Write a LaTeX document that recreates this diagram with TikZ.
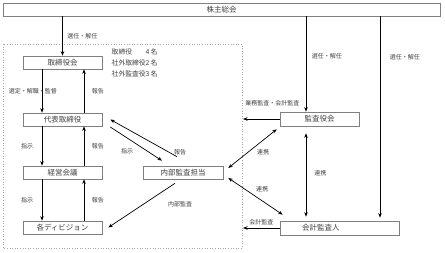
\documentclass[tikz,border=0pt]{standalone}
\usepackage{fontspec}
\setmainfont{Noto Sans CJK JP}
\usetikzlibrary{arrows.meta}

\tikzset{
  box/.style={draw=black!50, fill=white, line width=0.6pt, inner sep=0pt, minimum height=13pt, text=black!75, font=\fontsize{7.5}{9}\selectfont},
  lbl/.style={font=\fontsize{6}{7}\selectfont, inner sep=1.5pt, text=black!75},
  arr/.style={-{Stealth[length=4.5pt,width=3.5pt]}, line width=0.7pt},
  darr/.style={{Stealth[length=4.5pt,width=3.5pt]}-{Stealth[length=4.5pt,width=3.5pt]}, line width=0.7pt},
}

\begin{document}
\begin{tikzpicture}[x=1pt,y=-1pt]
  \useasboundingbox (0,0) rectangle (445,253);

  % Board area
  \draw[black!35, dotted, line width=0.6pt] (3,44) rectangle (242,248);

  % Boxes
  \node[box, minimum width=437pt] (soukai) at (221.5,9.5) {株主総会};
  \node[box, minimum width=79pt] (torikai) at (62.5,62.5) {取締役会};
  \node[box, minimum width=79pt] (daihyo) at (62.5,119.5) {代表取締役};
  \node[box, minimum width=79pt] (keiei) at (62.5,172.5) {経営会議};
  \node[box, minimum width=79pt] (division) at (62.5,227.5) {各ディビジョン};
  \node[box, minimum width=80pt] (naibu) at (183,172.5) {内部監査担当};
  \node[box, minimum width=79pt, minimum height=14pt] (kansa) at (319.5,119) {監査役会};
  \node[box, text width=119pt, minimum height=14pt, align=left] (kaikei) at (339.5,228) {\hspace*{22pt}会計監査人};

  % Members
  \node[lbl, anchor=north west, align=left, font=\fontsize{6.8}{11}\selectfont] (members) at (110,47) {取締役\hphantom{社外}4\,名\\社外取締役2\,名\\社外監査役3\,名};

  % Columns
  \coordinate (colA) at (306,0);
  \coordinate (colB) at (380,0);
  \coordinate (colL) at (42,0);
  \coordinate (colR) at (84,0);
  \coordinate (edge) at (243,0);

  % From the shareholders
  \draw[arr] (soukai.south -| torikai.north) -- (torikai.north) node[lbl, midway, right, xshift=3pt] {選任・解任};
  \draw[arr] (soukai.south -| colA) -- (kansa.north -| colA) node[lbl, pos=.42, right, xshift=4pt] {選任・解任};
  \draw[arr, shorten >=3pt] (soukai.south -| colB) -- (kaikei.north -| colB) node[lbl, pos=.2, right, xshift=8pt] {選任・解任};

  % Left column
  \draw[arr] (torikai.south -| colL) -- (daihyo.north -| colL) node[lbl, midway, xshift=-9pt] {選定・解職・監督};
  \draw[arr] (daihyo.north -| colR) -- (torikai.south -| colR) node[lbl, midway, right, xshift=6pt] {報告};
  \draw[arr] (daihyo.south -| colL) -- (keiei.north -| colL) node[lbl, midway, left, xshift=-7pt] {指示};
  \draw[arr] (keiei.north -| colR) -- (daihyo.south -| colR) node[lbl, midway, right, xshift=6pt] {報告};
  \draw[arr] (keiei.south -| colL) -- (division.north -| colL) node[lbl, midway, left, xshift=-7pt] {指示};
  \draw[arr] (division.north -| colR) -- (keiei.south -| colR) node[lbl, midway, right, xshift=6pt] {報告};

  % Internal audit
  \draw[arr] ([xshift=-6pt,yshift=9pt]naibu.north) -- ([xshift=8pt]daihyo.east) node[lbl, at start, xshift=3pt, yshift=4pt] {報告};
  \draw[arr] ([xshift=8pt,yshift=-7.5pt]daihyo.east) -- ([xshift=-21pt,yshift=5pt]naibu.north) node[lbl, at end, xshift=-35pt, yshift=9pt] {指示};
  \draw[arr] ([xshift=-8pt,yshift=-4pt]naibu.south) -- ([xshift=6pt]division.east) node[lbl, at start, xshift=5pt, yshift=-21pt] {内部監査};

  % Auditors
  \draw[darr] ([xshift=-3pt,yshift=-3pt]kansa.south west) -- ([xshift=5pt,yshift=4.5pt]naibu.east) node[lbl, midway, xshift=10.5pt, yshift=-3.5pt] {連携};
  \draw[darr] ([xshift=5pt,yshift=-5.5pt]naibu.east) -- ([xshift=3pt,yshift=6pt]kaikei.north west) node[lbl, midway, xshift=6.5pt, yshift=7.5pt] {連携};
  \draw[darr, shorten <=7pt, shorten >=4pt] (kansa.south -| colA) -- (kaikei.north -| colA) node[lbl, midway, right, xshift=6.5pt] {連携};
  \draw[arr] (kansa.west) -- (kansa.west -| edge) node[lbl, midway, above, xshift=11pt, yshift=11pt] {業務監査・会計監査};
  \draw[arr] (kaikei.west) -- (kaikei.west -| edge) node[lbl, midway, above, yshift=1pt] {会計監査};
\end{tikzpicture}
\end{document}
